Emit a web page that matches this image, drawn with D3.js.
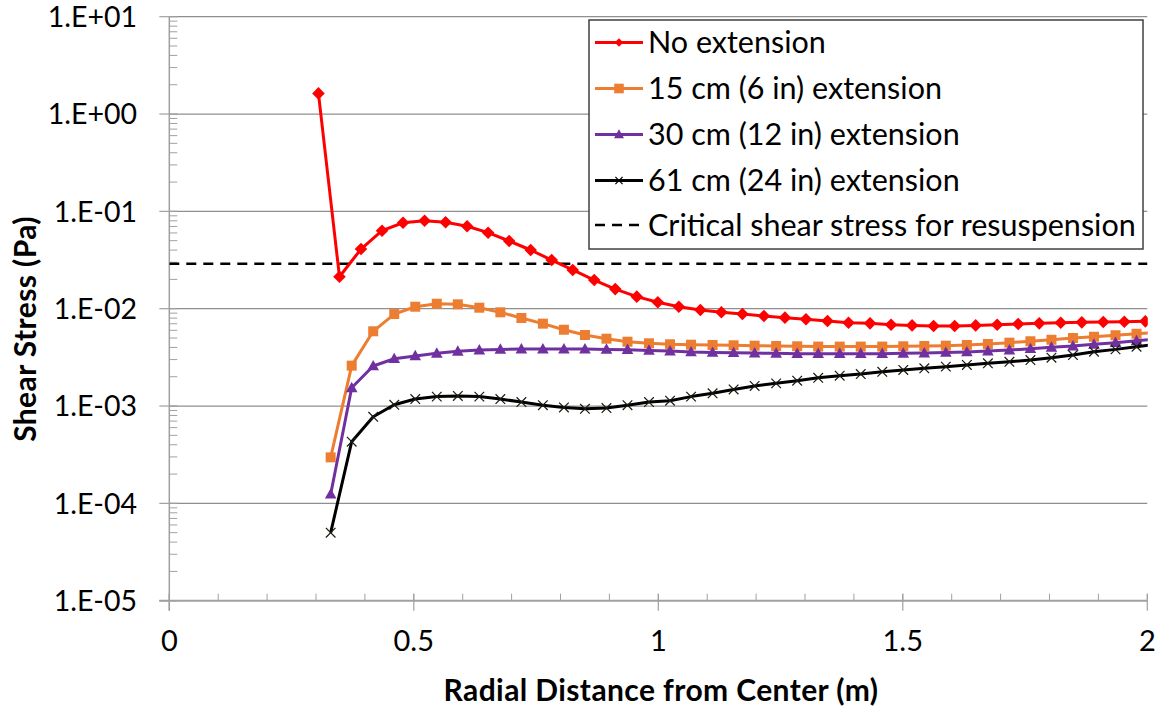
<!DOCTYPE html>
<html>
<head>
<meta charset="utf-8">
<script src="https://cdn.jsdelivr.net/npm/d3@7/dist/d3.min.js"></script>
<style>
  html, body { margin: 0; padding: 0; background: #fff; }
  svg { display: block; }
  text { font-family: Lato, "Noto Sans", sans-serif; fill: #000; }
</style>
</head>
<body>
<script>
// Radial positions (m) of the model nodes
const xNoExt = [0.305, 0.348, 0.392, 0.435, 0.478, 0.522, 0.565, 0.609, 0.652, 0.695,
  0.739, 0.782, 0.825, 0.869, 0.912, 0.956, 0.999, 1.042, 1.086, 1.129,
  1.172, 1.216, 1.259, 1.302, 1.346, 1.389, 1.433, 1.476, 1.519, 1.563,
  1.606, 1.649, 1.693, 1.736, 1.779, 1.823, 1.866, 1.910, 1.953, 1.996];
const xExt = [0.330, 0.373, 0.417, 0.460, 0.503, 0.547, 0.590, 0.634, 0.677, 0.720,
  0.764, 0.807, 0.850, 0.894, 0.937, 0.981, 1.024, 1.067, 1.111, 1.154,
  1.197, 1.241, 1.284, 1.327, 1.371, 1.414, 1.458, 1.501, 1.544, 1.588,
  1.631, 1.674, 1.718, 1.761, 1.804, 1.848, 1.891, 1.935, 1.978, 2.021];

// Bed shear stress (Pa)
const noExtension = [1.63, 0.0213, 0.0410, 0.0633, 0.0764, 0.0801, 0.0773, 0.0703, 0.0604, 0.0496,
  0.0401, 0.0316, 0.0250, 0.0197, 0.0159, 0.0133, 0.01164, 0.01048, 0.00969, 0.00918,
  0.00882, 0.00841, 0.00809, 0.00778, 0.00747, 0.00718, 0.00707, 0.00685, 0.00674, 0.00663,
  0.00663, 0.00674, 0.00685, 0.00697, 0.00707, 0.00718, 0.00724, 0.00730, 0.00735, 0.00741];
const ext15 = [0.000297, 0.00260, 0.00586, 0.00881, 0.01048, 0.01125, 0.01109, 0.01024, 0.00918, 0.00802,
  0.00702, 0.00608, 0.00537, 0.00492, 0.00458, 0.00441, 0.00431, 0.00427, 0.00424, 0.00421,
  0.00417, 0.00414, 0.00411, 0.00408, 0.00408, 0.00408, 0.00408, 0.00411, 0.00414, 0.00417,
  0.00424, 0.00434, 0.00448, 0.00462, 0.00481, 0.00500, 0.00516, 0.00534, 0.00552, 0.00572];
const ext30 = [0.000124, 0.00154, 0.00258, 0.00306, 0.00327, 0.00348, 0.00365, 0.00376, 0.00382, 0.00385,
  0.00385, 0.00385, 0.00385, 0.00382, 0.00379, 0.00373, 0.00367, 0.00359, 0.00355, 0.00353,
  0.00350, 0.00348, 0.00345, 0.00345, 0.00345, 0.00345, 0.00345, 0.00348, 0.00350, 0.00355,
  0.00359, 0.00367, 0.00376, 0.00388, 0.00401, 0.00413, 0.00431, 0.00448, 0.00468, 0.00488];
const ext61 = [0.0000500, 0.000430, 0.000776, 0.00103, 0.00118, 0.00125, 0.00127, 0.00125, 0.00118, 0.00110,
  0.00102, 0.000968, 0.000937, 0.000953, 0.00102, 0.00110, 0.001135, 0.00125, 0.00135, 0.00148,
  0.00161, 0.00171, 0.00182, 0.00195, 0.00205, 0.00213, 0.00225, 0.00235, 0.00244, 0.00254,
  0.00264, 0.00275, 0.00285, 0.00297, 0.00314, 0.00334, 0.00362, 0.00382, 0.00407, 0.00432];

const criticalStress = 0.029;

const seriesNames = ["No extension", "15 cm (6 in) extension", "30 cm (12 in) extension",
  "61 cm (24 in) extension"];
const criticalName = "Critical shear stress for resuspension";
const xTicks = [0, 0.5, 1, 1.5, 2];
const yTicks = [1e1, 1e0, 1e-1, 1e-2, 1e-3, 1e-4, 1e-5];
const yTickLabels = ["1.E+01", "1.E+00", "1.E-01", "1.E-02", "1.E-03", "1.E-04", "1.E-05"];
const xTitle = "Radial Distance from Center (m)";
const yTitle = "Shear Stress (Pa)";

// ---- layout ----
const W = 1163, H = 709;
const plot = { left: 169.3, right: 1147.3, top: 16.7, bottom: 600.7 };

const svg = d3.select("body").append("svg").attr("width", W).attr("height", H);

const x = d3.scaleLinear().domain([0, 2]).range([plot.left, plot.right]);
const y = d3.scaleLog().domain([1e-5, 10]).range([plot.bottom, plot.top]);

svg.append("defs").append("clipPath").attr("id", "plotClip")
  .append("rect")
  .attr("x", plot.left).attr("y", plot.top - 6)
  .attr("width", plot.right - plot.left + 0.5).attr("height", plot.bottom - plot.top + 6);

// horizontal gridlines at each decade
svg.append("g").selectAll("line").data(yTicks.slice(0, -1)).join("line")
  .attr("x1", plot.left).attr("x2", plot.right)
  .attr("y1", d => y(d)).attr("y2", d => y(d))
  .attr("stroke", "#8f8f8f").attr("stroke-width", 1.2);

// y axis with minor log ticks
const yMinor = [];
for (let e = -5; e < 1; e++) for (let m = 2; m <= 9; m++) yMinor.push(m * Math.pow(10, e));
const yAxis = svg.append("g");
yAxis.append("line").attr("x1", plot.left).attr("x2", plot.left)
  .attr("y1", plot.top).attr("y2", plot.bottom + 10)
  .attr("stroke", "#a0a0a0").attr("stroke-width", 1.5);
yAxis.selectAll("line.minor").data(yMinor).join("line").attr("class", "minor")
  .attr("x1", plot.left).attr("x2", plot.left + 8)
  .attr("y1", d => y(d)).attr("y2", d => y(d))
  .attr("stroke", "#a0a0a0").attr("stroke-width", 1);
yAxis.selectAll("line.major").data(yTicks).join("line").attr("class", "major")
  .attr("x1", plot.left - 10).attr("x2", plot.left + 8)
  .attr("y1", d => y(d)).attr("y2", d => y(d))
  .attr("stroke", "#a0a0a0").attr("stroke-width", 1.2);
yAxis.selectAll("text").data(yTicks).join("text")
  .attr("x", 137).attr("y", d => y(d)).attr("dy", "0.36em")
  .attr("text-anchor", "end").attr("font-size", 28.5)
  .text((d, i) => yTickLabels[i]);

// x axis with minor ticks every 0.1 m
const xMinor = d3.range(0, 21).map(i => i / 10);
const xAxis = svg.append("g");
xAxis.append("line").attr("x1", plot.left - 10).attr("x2", plot.right)
  .attr("y1", plot.bottom).attr("y2", plot.bottom)
  .attr("stroke", "#a0a0a0").attr("stroke-width", 2);
xAxis.selectAll("line.minor").data(xMinor).join("line").attr("class", "minor")
  .attr("x1", d => x(d)).attr("x2", d => x(d))
  .attr("y1", plot.bottom - 7).attr("y2", plot.bottom)
  .attr("stroke", "#a0a0a0").attr("stroke-width", 1);
xAxis.selectAll("line.major").data(xTicks).join("line").attr("class", "major")
  .attr("x1", d => x(d)).attr("x2", d => x(d))
  .attr("y1", plot.bottom - 7).attr("y2", plot.bottom + 10)
  .attr("stroke", "#a0a0a0").attr("stroke-width", 1.2);
xAxis.selectAll("text").data(xTicks).join("text")
  .attr("x", d => x(d)).attr("y", 641).attr("dy", "0.36em")
  .attr("text-anchor", "middle").attr("font-size", 29)
  .text(d => d3.format("")(d));

// axis titles
svg.append("text").attr("x", 661).attr("y", 690).attr("dy", "0.36em")
  .attr("text-anchor", "middle").attr("font-size", 30).attr("font-weight", "bold")
  .attr("letter-spacing", 0.4)
  .text(xTitle);
svg.append("text").attr("transform", "translate(25,329) rotate(-90)").attr("dy", "0.36em")
  .attr("text-anchor", "middle").attr("font-size", 30).attr("font-weight", "bold")
  .attr("letter-spacing", 0.4)
  .text(yTitle);

// markers
const markerPath = {
  diamond: s => `M0,${-s}L${s},0L0,${s}L${-s},0Z`,
  square: s => `M${-s},${-s}H${s}V${s}H${-s}Z`,
  triangle: s => `M0,${-s * 1.05}L${s},${s * 0.75}L${-s},${s * 0.75}Z`,
  cross: s => `M${-s},${-s}L${s},${s}M${-s},${s}L${s},${-s}`
};

const series = [
  { name: seriesNames[0], xs: xNoExt, ys: noExtension, color: "#ff0000", marker: "diamond", size: 6.3, legendSize: 4.2 },
  { name: seriesNames[1], xs: xExt, ys: ext15, color: "#ed7d31", marker: "square", size: 5, legendSize: 4.8 },
  { name: seriesNames[2], xs: xExt, ys: ext30, color: "#7030a0", marker: "triangle", size: 5.8, legendSize: 5 },
  { name: seriesNames[3], xs: xExt, ys: ext61, color: "#000000", marker: "cross", size: 4.8, legendSize: 3.6 }
];

const plotG = svg.append("g").attr("clip-path", "url(#plotClip)");

// critical shear stress threshold
plotG.append("line")
  .attr("x1", plot.left).attr("x2", plot.right)
  .attr("y1", y(criticalStress)).attr("y2", y(criticalStress))
  .attr("stroke", "#000").attr("stroke-width", 2.5).attr("stroke-dasharray", "10,7");

const line = d3.line().x(d => x(d[0])).y(d => y(d[1]));

series.forEach(s => {
  const pts = s.xs.map((v, i) => [v, s.ys[i]]);
  const g = plotG.append("g");
  g.append("path").datum(pts).attr("d", line)
    .attr("fill", "none").attr("stroke", s.color).attr("stroke-width", 3)
    .attr("stroke-linejoin", "round");
  g.selectAll("path.m").data(pts).join("path").attr("class", "m")
    .attr("transform", d => `translate(${x(d[0])},${y(d[1])})`)
    .attr("d", markerPath[s.marker](s.size))
    .attr("fill", s.marker === "cross" ? "none" : s.color)
    .attr("stroke", s.marker === "cross" ? "#1a1a10" : "none")
    .attr("stroke-width", 1.2);
});

// legend
const lg = svg.append("g");
lg.append("rect").attr("x", 589).attr("y", 20).attr("width", 554).attr("height", 229)
  .attr("fill", "#fff").attr("stroke", "#404040").attr("stroke-width", 1.5);
const rowY = [42.5, 88.5, 134.5, 180.5, 225];
series.forEach((s, i) => {
  const r = lg.append("g").attr("transform", `translate(0,${rowY[i]})`);
  r.append("line").attr("x1", 595).attr("x2", 643).attr("y1", 0).attr("y2", 0)
    .attr("stroke", s.color).attr("stroke-width", 3);
  r.append("path").attr("transform", "translate(619,0)")
    .attr("d", markerPath[s.marker](s.legendSize))
    .attr("fill", s.marker === "cross" ? "none" : s.color)
    .attr("stroke", s.marker === "cross" ? "#000" : "none").attr("stroke-width", 1.2);
  r.append("text").attr("x", 648).attr("y", 0).attr("dy", "0.36em")
    .attr("font-size", 30.5).text(s.name);
});
const cr = lg.append("g").attr("transform", `translate(0,${rowY[4]})`);
cr.append("line").attr("x1", 595).attr("x2", 643).attr("y1", 0).attr("y2", 0)
  .attr("stroke", "#000").attr("stroke-width", 2.5).attr("stroke-dasharray", "10,7");
cr.append("text").attr("x", 648).attr("y", 0).attr("dy", "0.36em")
  .attr("font-size", 30.5).text(criticalName);
</script>
</body>
</html>
